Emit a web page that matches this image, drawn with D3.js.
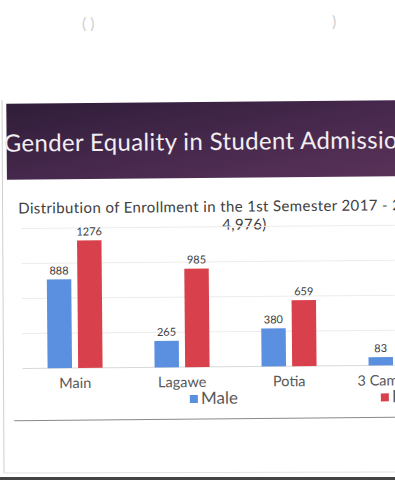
<!DOCTYPE html>
<html>
  <head>
    <script src="https://d3js.org/d3.v7.min.js"></script>
    <style>
      body { margin: 0; background: #fff; }
      text { font-family: Lato, "Open Sans", sans-serif; }
    </style>
  </head>
  <body>
    <svg width="395" height="480"></svg>
    <script>
      // data
      var campuses = ["Main", "Lagawe", "Potia", "3 Campuses"];
      var male = [888, 265, 380, 83];
      var female = [1276, 985, 659, 250]; // last one is off the picture
      var series = ["Male", "Female"];
      var gridTicks = [0, 350, 700, 1050, 1400];
      var colors = { Male: "#5b8fe0", Female: "#d8404c" };

      var svg = d3.select("svg");

      // scan noise at the top
      svg.append("text").attr("x", 82).attr("y", 29).attr("font-size", 16)
        .attr("fill", "#cfcfcf").text("( )");
      svg.append("text").attr("x", 332).attr("y", 27).attr("font-size", 16)
        .attr("fill", "#cfcfcf").text(")");

      // slide frame
      svg.append("line").attr("x1", 2).attr("y1", 100).attr("x2", 4).attr("y2", 473)
        .attr("stroke", "#cfcfcf");
      svg.append("line").attr("x1", 4).attr("y1", 473).attr("x2", 395).attr("y2", 472)
        .attr("stroke", "#e2e2e2");
      svg.append("rect").attr("x", 0).attr("y", 477).attr("width", 395).attr("height", 3)
        .attr("fill", "#444");

      var g = svg.append("g").attr("transform", "rotate(-0.5,200,300)");

      // header band
      var defs = svg.append("defs");
      var grad = defs.append("linearGradient").attr("id", "band")
        .attr("x1", "0%").attr("y1", "0%").attr("x2", "100%").attr("y2", "100%");
      grad.append("stop").attr("offset", "0%").attr("stop-color", "#2f1d39");
      grad.append("stop").attr("offset", "60%").attr("stop-color", "#4a2a4f");
      grad.append("stop").attr("offset", "100%").attr("stop-color", "#5a3258");
      g.append("rect").attr("x", 8).attr("y", 102).attr("width", 400).attr("height", 76)
        .attr("fill", "url(#band)");
      g.append("text").attr("x", 5).attr("y", 150).attr("font-size", 24)
        .attr("letter-spacing", 0.35)
        .attr("fill", "#f2eef2").text("Gender Equality in Student Admission");

      // subtitle
      g.append("text").attr("x", 19).attr("y", 212).attr("font-size", 15)
        .attr("letter-spacing", 0.38)
        .attr("fill", "#404040").text("Distribution of Enrollment in the 1st Semester 2017 - 2018 (N =");
      g.append("text").attr("x", 245).attr("y", 230).attr("font-size", 15)
        .attr("letter-spacing", 0.38)
        .attr("text-anchor", "middle").attr("fill", "#404040").text("4,976)");

      // scales
      var x = d3.scaleBand().domain(campuses).range([21, 449]);
      var x1 = d3.scaleBand().domain(series).range([26, 81]).paddingInner(0.2);
      var y = d3.scaleLinear().domain([0, 1400]).range([367, 227]);

      // gridlines
      g.selectAll(".grid").data(gridTicks).enter().append("line")
        .attr("x1", 22).attr("x2", 400)
        .attr("y1", function(d) { return y(d); })
        .attr("y2", function(d) { return y(d); })
        .attr("stroke", function(d) { return d === 0 ? "#d9d9d9" : "#ececec"; });

      // bars
      var rows = campuses.map(function(c, i) {
        return { campus: c, values: [{ s: "Male", v: male[i] }, { s: "Female", v: female[i] }] };
      });
      var groups = g.selectAll(".campus").data(rows).enter().append("g")
        .attr("transform", function(d) { return "translate(" + x(d.campus) + ",0)"; });
      groups.selectAll("rect").data(function(d) { return d.values; }).enter().append("rect")
        .attr("x", function(d) { return x1(d.s); })
        .attr("width", x1.bandwidth())
        .attr("y", function(d) { return y(d.v); })
        .attr("height", function(d) { return y(0) - y(d.v); })
        .attr("fill", function(d) { return colors[d.s]; });
      groups.selectAll(".val").data(function(d) { return d.values; }).enter().append("text")
        .attr("x", function(d) { return x1(d.s) + x1.bandwidth() / 2; })
        .attr("y", function(d) { return y(d.v) - 5; })
        .attr("text-anchor", "middle").attr("font-size", 11).attr("fill", "#404040")
        .text(function(d) { return d.v; });

      // category labels
      g.selectAll(".cat").data(campuses).enter().append("text")
        .attr("x", function(d) { return x(d) + x.bandwidth() / 2; })
        .attr("y", 387).attr("text-anchor", "middle")
        .attr("font-size", 14.5).attr("fill", "#595959")
        .text(function(d) { return d; });

      // legend
      var legendX = [189, 380];
      var leg = g.selectAll(".leg").data(series).enter().append("g")
        .attr("transform", function(d, i) { return "translate(" + legendX[i] + ",395)"; });
      leg.append("rect").attr("width", 8).attr("height", 8)
        .attr("fill", function(d) { return colors[d]; });
      leg.append("text").attr("x", 11).attr("y", 9).attr("font-size", 17)
        .attr("fill", "#595959").text(function(d) { return d; });

      // bottom rule
      g.append("line").attr("x1", 13).attr("y1", 419).attr("x2", 400).attr("y2", 419)
        .attr("stroke", "#8a8a8a");
    </script>
  </body>
</html>
